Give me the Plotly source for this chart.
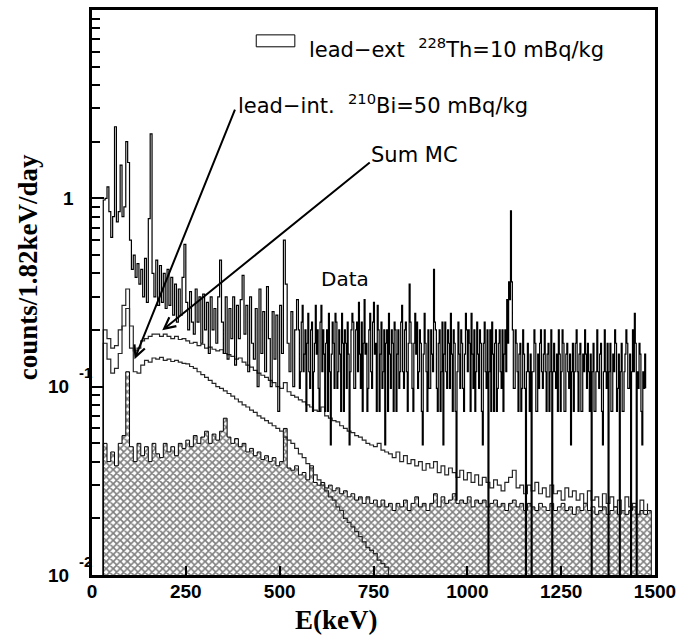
import plotly.graph_objects as go

# ---------------- data ----------------
# measured spectrum (counts/1.82keV/day)
# low-energy part: 5 keV bins from 25 keV to 545 keV
data_E_low = list(range(25, 550, 5))
data_rate_low = [
    0.0,
    0.98, 1.0, 1.15, 0.85, 0.62, 0.8, 2.4, 0.75, 0.85, 1.5,      # 30-75
    0.8, 0.9, 2.0, 1.55, 0.6, 0.42, 0.5, 0.38, 0.45, 0.35,       # 80-125
    0.42, 0.3, 0.48, 0.28, 0.78, 2.2, 0.4, 0.3, 0.47, 0.27,      # 130-175
    0.44, 0.28, 0.4, 0.26, 0.42, 0.27, 0.38, 0.24, 0.35, 0.22,   # 180-225
    0.33, 0.24, 0.38, 0.57, 0.28, 0.2, 0.32, 0.22, 0.19, 0.33,   # 230-275
    0.22, 0.3, 0.17, 0.31, 0.2, 0.28, 0.15, 0.3, 0.2, 0.26,      # 280-325
    0.17, 0.3, 0.47, 0.22, 0.15, 0.3, 0.14, 0.26, 0.18, 0.3,     # 330-375
    0.13, 0.27, 0.18, 0.29, 0.39, 0.19, 0.27, 0.12, 0.3, 0.17,   # 380-425
    0.14, 0.26, 0.1, 0.33, 0.15, 0.25, 0.12, 0.34, 0.18, 0.1,    # 430-475
    0.25, 0.14, 0.24, 0.074, 0.27, 0.15, 0.6, 0.35, 0.17, 0.12,  # 480-525
    0.25, 0.1, 0.2, 0.29,                                        # 530-545
]
# high-energy part: 2.5 keV bins from 550 keV to 1475 keV
data_E_high = [550 + 2.5 * i for i in range(371)]
data_rate_high = [
    0.2, 0.098, 0.12, 0.22, 0.27, 0.12, 0.149, 0.2, 0.074, 0.17,       # 550
    0.245, 0.12, 0.098, 0.2, 0.22, 0.074, 0.12, 0.17, 0.27, 0.149,     # 575
    0.2, 0.098, 0.074, 0.22, 0.27, 0.12, 0.2, 0.149, 0.074, 0.17,      # 600
    0.2, 0.074, 0.245, 0.12, 0.049, 0.149, 0.22, 0.17, 0.098, 0.245,   # 625
    0.22, 0.098, 0.12, 0.2, 0.149, 0.074, 0.245, 0.17, 0.074, 0.2,     # 650
    0.17, 0.098, 0.22, 0.149, 0.049, 0.12, 0.2, 0.245, 0.22, 0.098,    # 675
    0.098, 0.2, 0.22, 0.12, 0.28, 0.149, 0.098, 0.22, 0.074, 0.17,     # 700
    0.29, 0.149, 0.17, 0.074, 0.098, 0.2, 0.245, 0.12, 0.098, 0.22,    # 725
    0.28, 0.149, 0.17, 0.074, 0.27, 0.2, 0.074, 0.149, 0.22, 0.098,    # 750
    0.12, 0.2, 0.049, 0.17, 0.2, 0.074, 0.245, 0.149, 0.098, 0.2,      # 775
    0.17, 0.074, 0.22, 0.2, 0.074, 0.149, 0.2, 0.098, 0.12, 0.22,      # 800
    0.27, 0.12, 0.098, 0.2, 0.22, 0.12, 0.074, 0.17, 0.35, 0.22,       # 825
    0.17, 0.098, 0.074, 0.17, 0.245, 0.149, 0.22, 0.098, 0.12, 0.2,    # 850
    0.17, 0.074, 0.049, 0.149, 0.245, 0.17, 0.12, 0.074, 0.2, 0.098,   # 875
    0.098, 0.2, 0.149, 0.12, 0.42, 0.22, 0.2, 0.098, 0.074, 0.17,      # 900
    0.2, 0.074, 0.12, 0.22, 0.049, 0.149, 0.22, 0.12, 0.098, 0.2,      # 925
    0.17, 0.098, 0.245, 0.149, 0.074, 0.2, 0.17, 0.074, 0.025, 0.12,   # 950
    0.22, 0.149, 0.098, 0.2, 0.17, 0.098, 0.074, 0.149, 0.245, 0.2,    # 975
    0.12, 0.2, 0.17, 0.074, 0.245, 0.149, 0.098, 0.2, 0.074, 0.12,     # 1000
    0.22, 0.149, 0.098, 0.2, 0.17, 0.074, 0.049, 0.17, 0.22, 0.12,     # 1025
    0.098, 0.2, 0.0, 0.12, 0.2, 0.074, 0.22, 0.149, 0.074, 0.17,       # 1050
    0.2, 0.074, 0.098, 0.17, 0.2, 0.12, 0.098, 0.2, 0.074, 0.149,      # 1075
    0.2, 0.12, 0.29, 0.17, 0.36, 0.29, 0.857, 0.36, 0.2, 0.098,        # 1100
    0.098, 0.2, 0.17, 0.12, 0.074, 0.149, 0.17, 0.074, 0.098, 0.2,     # 1125
    0.149, 0.098, 0.0, 0.12, 0.17, 0.12, 0.074, 0.149, 0.0, 0.12,      # 1150
    0.12, 0.2, 0.17, 0.074, 0.074, 0.149, 0.098, 0.17, 0.2, 0.12,      # 1175
    0.098, 0.149, 0.2, 0.12, 0.074, 0.149, 0.17, 0.074, 0.12, 0.2,     # 1200
    0.0, 0.12, 0.17, 0.12, 0.098, 0.149, 0.074, 0.2, 0.149, 0.074,     # 1225
    0.12, 0.2, 0.17, 0.074, 0.074, 0.149, 0.17, 0.12, 0.098, 0.149,    # 1250
    0.049, 0.12, 0.17, 0.074, 0.12, 0.17, 0.2, 0.12, 0.074, 0.149,     # 1275
    0.17, 0.074, 0.074, 0.149, 0.12, 0.2, 0.149, 0.098, 0.17, 0.12,    # 1300
    0.074, 0.149, 0.0, 0.12, 0.17, 0.074, 0.074, 0.12, 0.2, 0.12,      # 1325
    0.098, 0.149, 0.17, 0.074, 0.049, 0.12, 0.2, 0.12, 0.098, 0.17,    # 1350
    0.0, 0.12, 0.17, 0.074, 0.074, 0.149, 0.12, 0.2, 0.17, 0.074,      # 1375
    0.098, 0.149, 0.0, 0.12, 0.17, 0.074, 0.074, 0.12, 0.149, 0.2,     # 1400
    0.17, 0.098, 0.098, 0.149, 0.0, 0.12, 0.2, 0.12, 0.245, 0.17,      # 1425
    0.0, 0.12, 0.098, 0.17, 0.149, 0.074, 0.049, 0.12, 0.098, 0.149,   # 1450
    0.098,                                                             # 1475
]

# Sum MC, 10 keV bins starting at 20 keV
mc_E = list(range(20, 1490, 10))
sum_mc = [
    0.0,
    0.2, 0.18, 0.16, 0.165, 0.2, 0.27, 0.33, 0.21, 0.155, 0.16,
    0.175, 0.18, 0.185, 0.19, 0.19, 0.185, 0.19, 0.185, 0.18, 0.185,
    0.178, 0.18, 0.175, 0.17, 0.172, 0.165, 0.168, 0.16, 0.162, 0.158,
    0.155, 0.157, 0.15, 0.148, 0.145, 0.14, 0.142, 0.135, 0.13, 0.127,
    0.122, 0.118, 0.115, 0.112, 0.108, 0.105, 0.1, 0.098, 0.105, 0.094,
    0.09, 0.088, 0.085, 0.083, 0.08, 0.078, 0.075, 0.074, 0.078, 0.07,
    0.068, 0.066, 0.065, 0.062, 0.06, 0.058, 0.057, 0.055, 0.054, 0.052,
    0.05, 0.049, 0.048, 0.05, 0.046, 0.045, 0.044, 0.042, 0.045, 0.04,
    0.043, 0.039, 0.041, 0.038, 0.04, 0.036, 0.039, 0.037, 0.04, 0.035,
    0.038, 0.034, 0.037, 0.035, 0.033, 0.036, 0.032, 0.035, 0.031, 0.034,
    0.03, 0.033, 0.031, 0.029, 0.032, 0.03, 0.028, 0.031, 0.033, 0.036,
    0.029, 0.03, 0.027, 0.03, 0.028, 0.031, 0.027, 0.029, 0.026, 0.03,
    0.027, 0.028, 0.025, 0.029, 0.026, 0.028, 0.025, 0.027, 0.024, 0.028,
    0.025, 0.026, 0.023, 0.027, 0.024, 0.026, 0.023, 0.025, 0.022, 0.026,
    0.023, 0.024, 0.021, 0.025, 0.022, 0.024,
]

# lead-internal 210Bi MC, 10 keV bins starting at 20 keV
int_E = list(range(20, 810, 10))
lead_int_bi210 = [
    0.0,
    0.17, 0.14, 0.118, 0.125, 0.15, 0.21, 0.26, 0.16, 0.12, 0.118,
    0.13, 0.138, 0.135, 0.142, 0.14, 0.143, 0.138, 0.14, 0.136, 0.138,
    0.135, 0.133, 0.132, 0.128, 0.125, 0.12, 0.116, 0.112, 0.108, 0.104,
    0.1, 0.098, 0.095, 0.092, 0.089, 0.086, 0.083, 0.08, 0.078, 0.075,
    0.073, 0.07, 0.068, 0.066, 0.064, 0.062, 0.06, 0.058, 0.054, 0.052,
    0.05, 0.047, 0.044, 0.042, 0.039, 0.037, 0.034, 0.032, 0.03, 0.028,
    0.026, 0.025, 0.023, 0.022, 0.02, 0.019, 0.018, 0.017, 0.016, 0.015,
    0.014, 0.0135, 0.013, 0.012, 0.0115, 0.011, 0.0098, 0.009,
]

# lead-external 228Th MC (hatched), 10 keV bins starting at 20 keV
ext_E = list(range(20, 1500, 10))
lead_ext_th228 = [
    0.0,
    0.05, 0.04, 0.045, 0.038, 0.05, 0.055, 0.12, 0.048, 0.04, 0.05,
    0.043, 0.048, 0.04, 0.05, 0.044, 0.042, 0.05, 0.045, 0.048, 0.043,
    0.05, 0.047, 0.052, 0.048, 0.055, 0.05, 0.054, 0.058, 0.05, 0.056,
    0.052, 0.058, 0.068, 0.054, 0.05, 0.053, 0.048, 0.05, 0.045, 0.047,
    0.043, 0.045, 0.041, 0.043, 0.04, 0.042, 0.038, 0.04, 0.06, 0.037,
    0.036, 0.038, 0.034, 0.035, 0.032, 0.038, 0.031, 0.03, 0.031, 0.029,
    0.03, 0.028, 0.029, 0.027, 0.028, 0.026, 0.027, 0.025, 0.026, 0.024,
    0.026, 0.024, 0.025, 0.023, 0.025, 0.023, 0.024, 0.022, 0.024, 0.023,
    0.025, 0.022, 0.024, 0.026, 0.023, 0.024, 0.022, 0.024, 0.027, 0.023,
    0.026, 0.024, 0.025, 0.027, 0.024, 0.025, 0.024, 0.026, 0.023, 0.025,
    0.024, 0.025, 0.023, 0.024, 0.025, 0.023, 0.024, 0.022, 0.024, 0.025,
    0.023, 0.024, 0.022, 0.024, 0.023, 0.022, 0.024, 0.023, 0.022, 0.024,
    0.022, 0.023, 0.024, 0.022, 0.023, 0.021, 0.023, 0.022, 0.024, 0.022,
    0.023, 0.021, 0.022, 0.023, 0.021, 0.022, 0.023, 0.021, 0.022, 0.021,
    0.022, 0.023, 0.021, 0.022, 0.021, 0.022,
    0.0,
]

x_ticks = [0, 250, 500, 750, 1000, 1250, 1500]
y_major = [0.01, 0.1, 1, 10]
y_minor = [m * d for d in (0.01, 0.1, 1) for m in range(2, 10)]

FLOOR = 1e-4  # empty bins drawn below the log-axis floor


def on_log(vals):
    return [v if v > 0 else FLOOR for v in vals]


fig = go.Figure()

fig.add_trace(go.Scatter(
    x=ext_E, y=on_log(lead_ext_th228), mode="lines", line_shape="hv",
    line=dict(color="black", width=1), fill="tozeroy",
    fillcolor="white",
    fillpattern=dict(shape="x", fgcolor="black", bgcolor="white",
                     size=5, solidity=0.55),
    showlegend=False, name="lead-ext 228Th"))

fig.add_trace(go.Scatter(
    x=int_E, y=on_log(lead_int_bi210), mode="lines", line_shape="hv",
    line=dict(color="#262626", width=1.2), showlegend=False,
    name="lead-int 210Bi"))

fig.add_trace(go.Scatter(
    x=mc_E, y=on_log(sum_mc), mode="lines", line_shape="hv",
    line=dict(color="#262626", width=1.2), showlegend=False, name="Sum MC"))

fig.add_trace(go.Scatter(
    x=data_E_low + data_E_high,
    y=on_log(data_rate_low + data_rate_high), mode="lines", line_shape="hv",
    line=dict(color="black", width=1.2), showlegend=False, name="Data"))

L, R, T, B = 92, 22, 7, 63
W, H = 683, 638
PW, PH = W - L - R, H - T - B


def px(xp):
    return (xp - L) / PW


def py(yp):
    return (H - B - yp) / PH


tick_font = dict(family="Liberation Sans", size=19, color="black", weight="bold")

fig.update_layout(
    width=W, height=H,
    margin=dict(l=L, r=R, t=T, b=B),
    plot_bgcolor="white", paper_bgcolor="white",
    xaxis=dict(range=[0, 1500], tickvals=x_ticks, ticks="inside", ticklen=9,
               tickwidth=2, tickcolor="black", showline=True, linewidth=3,
               linecolor="black", mirror=True, showgrid=False, zeroline=False,
               tickfont=tick_font, ticklabelstandoff=-3),
    yaxis=dict(type="log", range=[-2, 1], tickvals=y_major, ticks="inside",
               ticklen=12, tickwidth=2, tickcolor="black", showline=True,
               linewidth=3, linecolor="black", mirror=True, showgrid=False,
               zeroline=False, showticklabels=False,
               minor=dict(tickvals=y_minor, ticks="inside", ticklen=8,
                          tickwidth=2, tickcolor="black", showgrid=False)),
)

ann = []
# y tick labels (ROOT style)
ann.append(dict(text="1", xref="paper", yref="y", x=px(76), y=0,
                xanchor="right", yanchor="middle", showarrow=False,
                font=tick_font))
for e, s in ((-1, "-1"), (-2, "-2")):
    ann.append(dict(text="10", xref="paper", yref="y", x=px(71), y=e,
                    xanchor="right", yanchor="middle", showarrow=False,
                    font=tick_font))
    ann.append(dict(text=s, xref="paper", yref="y", x=px(77), y=e,
                    xanchor="left", yanchor="middle", yshift=14,
                    showarrow=False,
                    font=dict(family="Liberation Sans", size=15,
                              color="black", weight="bold")))

title_font = dict(family="Liberation Serif", size=27, color="black",
                  weight="bold")
ann.append(dict(text="E(keV)", xref="paper", yref="paper", x=px(339),
                y=py(620), xanchor="center", yanchor="middle",
                showarrow=False, font=title_font))
ann.append(dict(text="counts/1.82keV/day", xref="paper", yref="paper",
                x=px(27), y=py(266), xanchor="center", yanchor="middle",
                textangle=-90, showarrow=False, font=title_font))

lab_font = dict(family="DejaVu Sans", size=21, color="black")
ann.append(dict(text="lead\u2212ext  <sup>228</sup>Th=10 mBq/kg", xref="paper",
                yref="paper", x=px(309), y=py(45), xanchor="left",
                yanchor="middle", showarrow=False, font=lab_font))
ann.append(dict(text="lead\u2212int.  <sup>210</sup>Bi=50 mBq/kg", xref="paper",
                yref="paper", x=px(238), y=py(102), xanchor="left",
                yanchor="middle", showarrow=False, font=lab_font))
ann.append(dict(text="Sum MC", xref="paper", yref="paper", x=px(372),
                y=py(153), xanchor="left", yanchor="middle",
                showarrow=False, font=lab_font))
ann.append(dict(text="Data", xref="paper", yref="paper", x=px(321),
                y=py(277), xanchor="left", yanchor="middle",
                showarrow=False, font=dict(family="DejaVu Sans", size=20,
                                           color="black")))

# arrows
ann.append(dict(text="", xref="paper", yref="paper", x=px(135), y=py(358),
                ax=236 - 135, ay=107 - 358, showarrow=True, arrowhead=5,
                arrowsize=1.1, arrowwidth=2, arrowcolor="black",
                standoff=0, startstandoff=0))
ann.append(dict(text="", xref="paper", yref="paper", x=px(163), y=py(329),
                ax=372 - 163, ay=160 - 329, showarrow=True, arrowhead=5,
                arrowsize=1.1, arrowwidth=2, arrowcolor="black",
                standoff=0, startstandoff=0))

fig.update_layout(annotations=ann)

# legend box (empty rectangle)
fig.add_shape(type="rect", xref="paper", yref="paper",
              x0=px(258), x1=px(297), y0=py(44), y1=py(32),
              line=dict(color="black", width=1), fillcolor="white")

fig.write_html("out.html", config={"displayModeBar": False},
               post_script="document.body.style.margin='0px';")
